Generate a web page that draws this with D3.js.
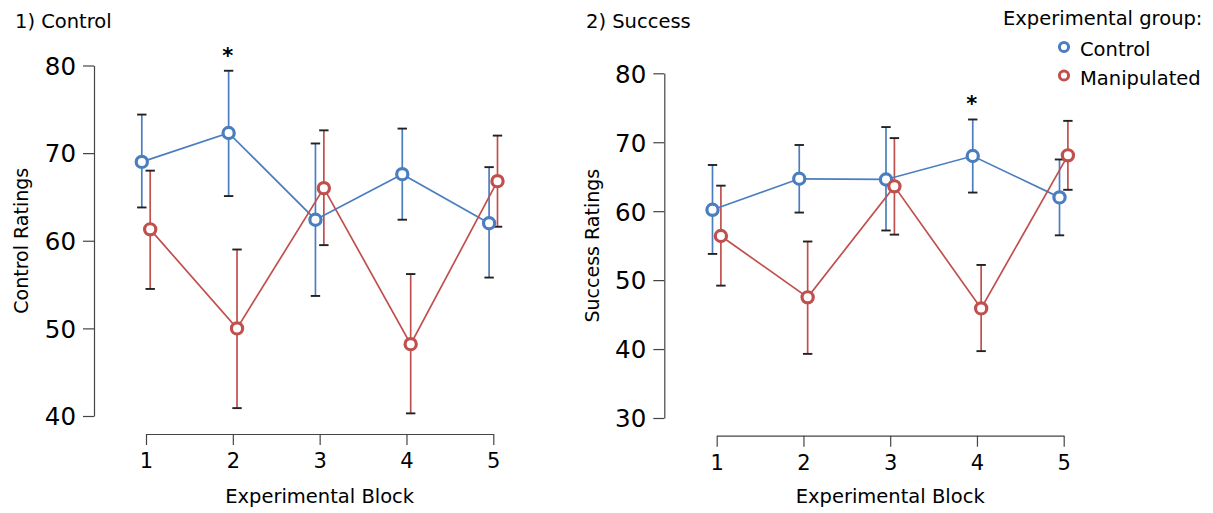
<!DOCTYPE html>
<html>
<head>
<meta charset="utf-8">
<script src="https://cdn.jsdelivr.net/npm/d3@7"></script>
<style>
  html, body { margin: 0; padding: 0; background: #fff; }
  svg { display: block; font-family: "DejaVu Sans", sans-serif; }
</style>
</head>
<body>
<svg id="chart" width="1213" height="513"></svg>
<script>
// ---- data ----
const blocks = [1, 2, 3, 4, 5];
const groups = ["Control", "Manipulated"];

// Panel 1: Control Ratings
const p1ControlMean = [69.0, 72.3, 62.4, 67.6, 62.0];
const p1ControlLo   = [63.8, 65.1, 53.7, 62.4, 55.8];
const p1ControlHi   = [74.4, 79.4, 71.1, 72.8, 68.4];
const p1ManipMean   = [61.3, 50.0, 66.0, 48.2, 66.8];
const p1ManipLo     = [54.5, 40.9, 59.5, 40.3, 61.6];
const p1ManipHi     = [68.0, 59.0, 72.6, 56.2, 72.0];
const p1YTicks = [40, 50, 60, 70, 80];
const p1Star = 2; // block with significance star

// Panel 2: Success Ratings
const p2ControlMean = [60.2, 64.7, 64.6, 68.0, 62.0];
const p2ControlLo   = [53.8, 59.8, 57.2, 62.7, 56.5];
const p2ControlHi   = [66.7, 69.6, 72.2, 73.3, 67.5];
const p2ManipMean   = [56.4, 47.5, 63.6, 45.9, 68.1];
const p2ManipLo     = [49.2, 39.3, 56.6, 39.7, 63.1];
const p2ManipHi     = [63.7, 55.6, 70.6, 52.2, 73.1];
const p2YTicks = [30, 40, 50, 60, 70, 80];
const p2Star = 4;

const colors = { "Control": "#4a7ebf", "Manipulated": "#c0504d" };

function makeSeries(mean, lo, hi) {
  return blocks.map((b, i) => ({ block: b, mean: mean[i], lo: lo[i], hi: hi[i] }));
}

const panels = [
  {
    title: "1) Control", yTitle: "Control Ratings",
    yDomain: [40, 80], yRange: [416, 65.5], yTicks: p1YTicks,
    xRange: [146, 493.3], xAxisY: 434, yAxisX: 94,
    titleX: 15, yTitleX: 28, star: p1Star,
    series: {
      "Control": makeSeries(p1ControlMean, p1ControlLo, p1ControlHi),
      "Manipulated": makeSeries(p1ManipMean, p1ManipLo, p1ManipHi)
    }
  },
  {
    title: "2) Success", yTitle: "Success Ratings",
    yDomain: [30, 80], yRange: [418, 73.3], yTicks: p2YTicks,
    xRange: [716.7, 1063.7], xAxisY: 435.7, yAxisX: 664.3,
    titleX: 586, yTitleX: 599, star: p2Star,
    series: {
      "Control": makeSeries(p2ControlMean, p2ControlLo, p2ControlHi),
      "Manipulated": makeSeries(p2ManipMean, p2ManipLo, p2ManipHi)
    }
  }
];

const svg = d3.select("#chart");
const dodge = { "Control": -4.2, "Manipulated": 4.2 };
const axisColor = "#444";

panels.forEach(p => {
  const x = d3.scalePoint().domain(blocks).range(p.xRange);
  const y = d3.scaleLinear().domain(p.yDomain).range(p.yRange);
  const g = svg.append("g");

  // title
  g.append("text").attr("x", p.titleX).attr("y", 28)
    .attr("font-size", 19.5).attr("fill", "#000").text(p.title);

  // y axis
  const yAxis = d3.axisLeft(y).tickValues(p.yTicks).tickSize(11).tickSizeOuter(0).tickPadding(7);
  const ya = g.append("g").attr("transform", `translate(${p.yAxisX},0)`).call(yAxis);
  ya.select(".domain").attr("stroke", axisColor).attr("stroke-width", 1.2);
  ya.selectAll(".tick line").attr("stroke", axisColor).attr("stroke-width", 1.2);
  ya.selectAll(".tick text").attr("font-size", 24.5).attr("fill", "#000")
    .attr("font-family", "DejaVu Sans, sans-serif").attr("dy", "0.36em");

  // x axis
  const xAxis = d3.axisBottom(x).tickSize(11).tickSizeOuter(0).tickPadding(8);
  const xa = g.append("g").attr("transform", `translate(0,${p.xAxisY})`).call(xAxis);
  xa.select(".domain").attr("stroke", axisColor).attr("stroke-width", 1.2);
  xa.selectAll(".tick line").attr("stroke", axisColor).attr("stroke-width", 1.2);
  xa.selectAll(".tick text").attr("font-size", 21).attr("fill", "#000")
    .attr("font-family", "DejaVu Sans, sans-serif").attr("dy", "0.71em");

  // axis titles
  g.append("text")
    .attr("x", (p.xRange[0] + p.xRange[1]) / 2).attr("y", 503)
    .attr("text-anchor", "middle").attr("font-size", 19.5).attr("fill", "#000")
    .text("Experimental Block");
  const ymid = (p.yRange[0] + p.yRange[1]) / 2;
  g.append("text")
    .attr("transform", `translate(${p.yTitleX},${ymid}) rotate(-90)`)
    .attr("text-anchor", "middle").attr("font-size", 19).attr("fill", "#000")
    .text(p.yTitle);

  // error bars
  groups.forEach(grp => {
    const data = p.series[grp];
    const eg = g.append("g");
    data.forEach(d => {
      const cx = x(d.block) + dodge[grp];
      eg.append("line").attr("x1", cx).attr("x2", cx)
        .attr("y1", y(d.lo)).attr("y2", y(d.hi))
        .attr("stroke", colors[grp]).attr("stroke-width", 1.7);
      [d.lo, d.hi].forEach(v => {
        eg.append("line").attr("x1", cx - 4.7).attr("x2", cx + 4.7)
          .attr("y1", y(v)).attr("y2", y(v))
          .attr("stroke", "#222").attr("stroke-width", 1.9);
      });
    });
  });

  // lines and points
  groups.forEach(grp => {
    const data = p.series[grp];
    const line = d3.line().x(d => x(d.block) + dodge[grp]).y(d => y(d.mean));
    g.append("path").datum(data).attr("d", line)
      .attr("fill", "none").attr("stroke", colors[grp]).attr("stroke-width", 1.7);
    g.selectAll(null).data(data).enter().append("circle")
      .attr("cx", d => x(d.block) + dodge[grp]).attr("cy", d => y(d.mean))
      .attr("r", 5.6).attr("fill", "#fff")
      .attr("stroke", colors[grp]).attr("stroke-width", 3.2);
  });

  // significance star above control upper error bar
  const sd = p.series["Control"].find(d => d.block === p.star);
  g.append("text")
    .attr("x", x(sd.block) + dodge["Control"] - 1)
    .attr("y", y(sd.hi) - 8)
    .attr("text-anchor", "middle").attr("font-size", 21).attr("font-weight", "bold")
    .attr("fill", "#000").text("*");
});

// legend
const lg = svg.append("g");
lg.append("text").attr("x", 1003).attr("y", 25).attr("font-size", 19.5)
  .attr("fill", "#000").text("Experimental group:");
groups.forEach((grp, i) => {
  const cy = 47 + i * 28.5;
  lg.append("circle").attr("cx", 1064).attr("cy", cy).attr("r", 4.6)
    .attr("fill", "#fff").attr("stroke", colors[grp]).attr("stroke-width", 3);
  lg.append("text").attr("x", 1080).attr("y", cy + 9).attr("font-size", 19.5)
    .attr("fill", "#000").text(grp);
});
</script>
</body>
</html>
